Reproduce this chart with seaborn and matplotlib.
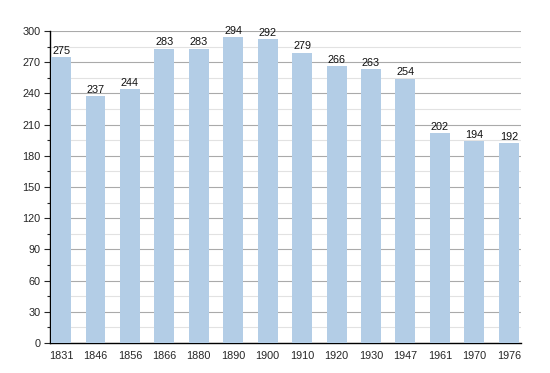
import matplotlib
matplotlib.use("Agg")
import matplotlib.pyplot as plt
import seaborn as sns
import pandas as pd
from matplotlib.ticker import MultipleLocator

# === Data ===
years = ["1831", "1846", "1856", "1866", "1880", "1890", "1900",
         "1910", "1920", "1930", "1947", "1961", "1970", "1976"]
population = [275, 237, 244, 283, 283, 294, 292, 279, 266, 263, 254, 202, 194, 192]

df = pd.DataFrame({"Year": years, "Population": population})

# === Plot ===
sns.set_style("white")
plt.rcParams["font.family"] = ["Liberation Sans", "DejaVu Sans"]

fig = plt.figure(figsize=(5.5, 3.73), dpi=100)
ax = fig.add_axes([0.091, 0.0804, 0.856, 0.8366])

sns.barplot(data=df, x="Year", y="Population", color="#b3cde6",
            saturation=1, width=0.58, linewidth=0, ax=ax, zorder=3)

ax.bar_label(ax.containers[0], fontsize=7.8, padding=1, color="#111111")

ax.set_ylim(0, 300)
ax.set_xlim(-0.32, 13.35)
ax.yaxis.set_major_locator(MultipleLocator(30))
ax.yaxis.set_minor_locator(MultipleLocator(15))
ax.grid(axis="y", which="major", color="#aaaaaa", linewidth=0.8, zorder=0)
ax.grid(axis="y", which="minor", color="#e2e2e2", linewidth=0.8, zorder=0)
ax.set_axisbelow(True)

for side in ["top", "right"]:
    ax.spines[side].set_visible(False)
ax.spines["left"].set_color("black")
ax.spines["bottom"].set_color("black")
ax.spines["left"].set_linewidth(1)
ax.spines["bottom"].set_linewidth(1)

ax.tick_params(axis="y", which="major", left=True, length=4, width=0.8, labelsize=7.8, pad=3)
ax.tick_params(axis="y", which="minor", left=True, length=2, width=0.8)
ax.tick_params(axis="x", bottom=False, labelsize=7.8, pad=2)
ax.set_xlabel("")
ax.set_ylabel("")

fig.savefig("out.png", dpi=100)
